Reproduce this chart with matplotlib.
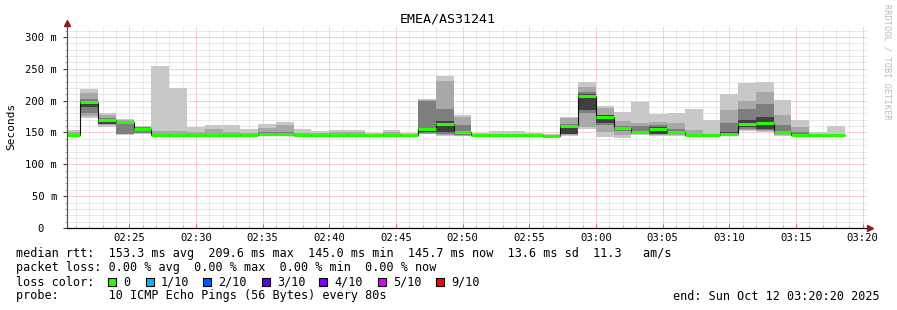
import numpy as np
import pandas as pd
import matplotlib
matplotlib.use('Agg')
import matplotlib.pyplot as plt
import matplotlib.dates as mdates
from matplotlib.patches import Rectangle
from matplotlib.ticker import MultipleLocator, FuncFormatter

W, H = 897, 310
MONO = 'DejaVu Sans Mono'

# rtt per 80 s step in ms, smoke given as nested pairs around the median
rtt_min = [144.5, 172, 159, 146, 148, 145, 145, 145, 145, 145, 145, 145, 145, 144.5, 144.5,
           144.5, 144.5, 144.5, 144.5, 144.5, 147, 145, 144.5, 144.5, 144.5, 144.5, 144.5, 144.5,
           145, 156, 143, 142, 146, 145, 145, 144.5, 144.5, 145, 152, 150, 145, 144.5, 144.5, 144.5]
rtt_lo2 = [145, 176, 161, 147, 148.5, 145.5, 145.5, 145, 145, 145, 145, 145.5, 145.5, 145, 145,
           145, 145, 144.5, 145, 144.5, 148, 146, 145, 144.5, 144.5, 144.5, 144.5, 144.5,
           146, 158, 151, 146, 147, 146, 146, 145, 145, 146, 154, 152, 146, 145, 145, 145]
rtt_lo1 = [145, 181, 163, 147.5, 149, 146, 146, 145.5, 145.5, 145.5, 145, 146, 146, 145, 145,
           145, 145, 145, 145, 145, 149, 148, 146, 145, 145, 145, 145, 145,
           147, 180, 162, 153, 148, 147, 147, 145, 145, 146.5, 156, 154, 147, 145.5, 145, 145]
rtt_lo0 = [145, 190, 164, 165, 153, 146, 146, 145.5, 145.5, 145.5, 145, 146.5, 146.5, 145, 145,
           145, 145, 145, 145, 145, 151, 150, 148, 145, 145, 145, 145, 145,
           148, 185, 165, 155, 149, 148, 148, 145, 145, 147, 158, 156, 148, 145.5, 145, 145]
rtt_median = [145.5, 198, 170, 167, 156, 146.5, 146.5, 146, 146, 146, 145.5, 147.5, 147, 145.5, 145.5,
              145.5, 145.5, 145.5, 145.5, 145.5, 155, 164, 151, 145.5, 145.5, 145.5, 145.5, 145.2,
              160, 208, 174, 157, 151, 156, 151, 145.5, 145.5, 148, 163, 165, 151, 146, 145.5, 145.5]
rtt_hi0 = [146, 200, 171, 167.5, 157, 147, 147, 146.5, 146.5, 146.5, 146, 148, 148, 146, 146,
           146, 146, 146, 146, 146, 157, 168, 153, 146, 146, 146, 146, 145.5,
           162, 211, 177, 159, 153, 158, 152, 146, 146, 150, 170, 175, 153, 147, 146, 146]
rtt_hi1 = [147, 202, 173, 168, 158, 148, 148, 147, 148, 147, 147, 150, 150, 147, 147,
           147, 147, 146.5, 147, 146.5, 199, 187, 162, 146.5, 146.5, 146.5, 146.5, 146,
           163, 213, 178, 160, 160, 162, 155, 147, 146.5, 165, 187, 195, 162, 150, 146.5, 146.5]
rtt_hi2 = [150, 212, 177, 170, 159, 152, 152, 150, 156, 151, 149, 157, 162, 149, 149,
           150, 150, 147, 150, 147, 201, 231, 174, 147, 148, 148, 147, 146.5,
           172, 222, 189, 168, 165, 167, 165, 154, 148, 185, 200, 214, 177, 158, 148, 148]
rtt_max = [154, 218, 181, 171, 160, 255, 220, 159, 162, 162, 155, 163, 167, 155, 153,
           154, 154, 149, 154, 149, 203, 239, 177, 149, 152, 152, 149, 147,
           175, 230, 192, 182, 198, 179, 181, 187, 170, 210, 228, 229, 201, 170, 151, 160]

loss_labels = ['0', '1/10', '2/10', '3/10', '4/10', '5/10', '9/10']
loss_colors = ['#26ff00', '#00b8ff', '#0059ff', '#5e00ff', '#7e00ff', '#dd00ff', '#ff0000']

legend_lines = [
    'median rtt:  153.3 ms avg  209.6 ms max  145.0 ms min  145.7 ms now  13.6 ms sd  11.3   am/s',
    'packet loss: 0.00 % avg  0.00 % max  0.00 % min  0.00 % now',
    'loss color:',
    'probe:       10 ICMP Echo Pings (56 Bytes) every 80s',
]

t_start = pd.Timestamp('2025-10-12 02:20:20')
t_end = pd.Timestamp('2025-10-12 03:20:20')
first_edge = pd.Timestamp('2025-10-12 02:21:20')
step = pd.Timedelta(seconds=80)
n = len(rtt_median)

right = [first_edge + k * step for k in range(n)]
left = [t_start] + right[:-1]
left_n = mdates.date2num(left)
right_n = mdates.date2num(right)
widths = right_n - left_n
edges = np.concatenate([left_n[:1], right_n])


def px(x, y):
    return x / W, 1 - y / H


fig = plt.figure(figsize=(W / 100, H / 100), dpi=100)
fig.patch.set_facecolor('white')
ax = fig.add_axes([67 / W, 1 - 228 / H, 800 / W, (228 - 26.8) / H])
ax.set_facecolor('white')

bands = [
    (rtt_min, rtt_max, '#c8c8c8'),
    (rtt_lo2, rtt_hi2, '#a8a8a8'),
    (rtt_lo1, rtt_hi1, '#7e7e7e'),
    (rtt_lo0, rtt_hi0, '#404040'),
]
for lo, hi, c in bands:
    lo = np.array(lo)
    hi = np.array(hi)
    ax.bar(left_n, hi - lo, width=widths, bottom=lo, align='edge', color=c,
           linewidth=0, zorder=3)

ax.stairs(rtt_median, edges, baseline=None, color='#101010', lw=0.8, zorder=4)
ax.hlines(rtt_median, left_n, right_n, colors=loss_colors[0], lw=2.2, zorder=5,
          capstyle='butt')

ax.set_xlim(mdates.date2num(t_start), mdates.date2num(t_end))
ax.set_ylim(0, 316)

ax.xaxis.set_major_locator(mdates.MinuteLocator(byminute=range(0, 60, 5)))
ax.xaxis.set_minor_locator(mdates.MinuteLocator())
ax.xaxis.set_major_formatter(mdates.DateFormatter('%H:%M'))
ax.yaxis.set_major_locator(MultipleLocator(50))
ax.yaxis.set_minor_locator(MultipleLocator(10))
ax.yaxis.set_major_formatter(FuncFormatter(lambda v, p: f'{int(v)} m' if v > 0 else '0  '))

dot = (0, (1, 1))
ax.grid(which='minor', color='#d4d4d4', lw=0.72, linestyle=dot, zorder=1)
ax.grid(which='major', color='#f4a0a0', lw=0.72, linestyle=dot, zorder=2)
ax.set_axisbelow(True)

for lab in ax.get_xticklabels() + ax.get_yticklabels():
    lab.set_fontfamily(MONO)
    lab.set_fontsize(7.6)
ax.tick_params(axis='x', which='major', direction='in', length=3, color='#e06060', pad=3.5)
ax.tick_params(axis='x', which='minor', direction='in', length=2, color='#b0b0b0')
ax.tick_params(axis='y', which='major', direction='out', length=3, color='#404040', pad=4)
ax.tick_params(axis='y', which='minor', direction='out', length=1.5, color='#909090')

for s in ['top', 'right']:
    ax.spines[s].set_visible(False)
ax.spines['left'].set_color('#505050')
ax.spines['left'].set_linewidth(0.8)
ax.spines['bottom'].set_color('black')
ax.spines['bottom'].set_linewidth(0.8)

# axis arrows
fig.add_artist(plt.Line2D([67 / W, 67 / W], [1 - 228 / H, 1 - 24 / H], color='#505050', lw=0.8))
fig.add_artist(plt.Line2D([67 / W, 869 / W], [1 - 228 / H, 1 - 228 / H], color='black', lw=0.8))
fig.add_artist(plt.Line2D([67 / W], [1 - 22.5 / H], marker='^', ms=4, color='#8b1a1a', lw=0))
fig.add_artist(plt.Line2D([869.5 / W], [1 - 228 / H], marker='>', ms=4, color='#8b1a1a', lw=0))

fig.text(*px(448, 19), 'EMEA/AS31241', family=MONO, fontsize=9.6, ha='center', va='center')
fig.text(*px(11, 126), 'Seconds', family=MONO, fontsize=8, rotation=90, ha='center', va='center')
fig.text(*px(887, 4), 'RRDTOOL / TOBI OETIKER', family=MONO, fontsize=6.2, rotation=270,
         ha='center', va='top', color='#bcbcbc')

rows = [254, 268, 282, 296]
for y, line in zip(rows, legend_lines):
    fig.text(*px(16, y), line, family=MONO, fontsize=8.5, ha='left', va='center')

sq_x = [108, 146, 203, 262, 319, 378, 436]
for x, c, lab in zip(sq_x, loss_colors, loss_labels):
    fig.add_artist(Rectangle(px(x, 286), 8 / W, 8 / H, facecolor=c, edgecolor='black', lw=0.8,
                             transform=fig.transFigure))
    fig.text(*px(x + 15, 282), lab, family=MONO, fontsize=8.5, ha='left', va='center')

fig.text(*px(880, 296), 'end: Sun Oct 12 03:20:20 2025', family=MONO, fontsize=8.5,
         ha='right', va='center')

fig.savefig('out.png', dpi=100, facecolor='white')
